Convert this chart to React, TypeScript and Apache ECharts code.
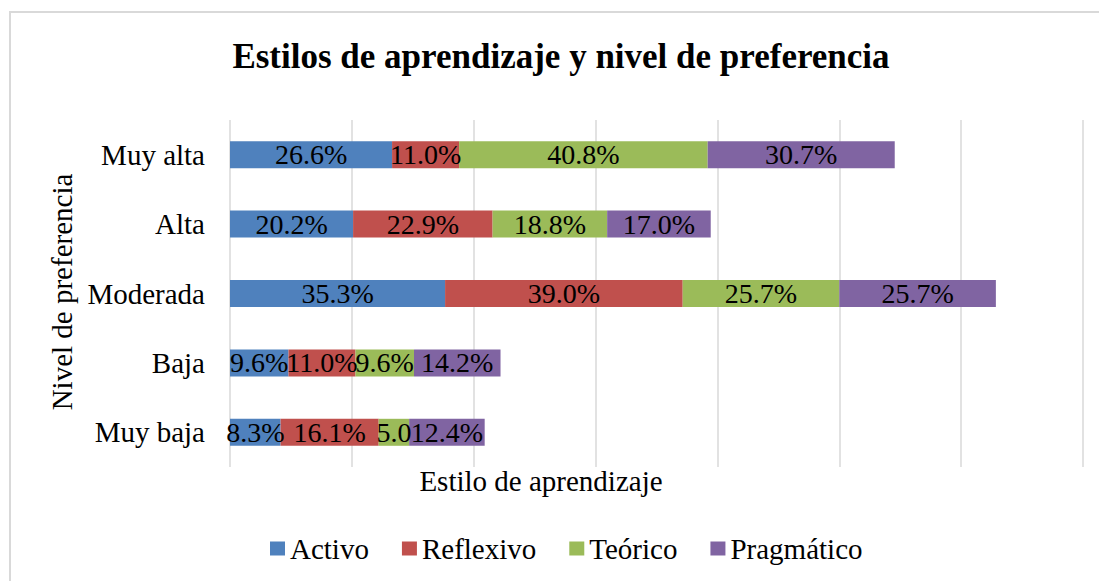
import React, { useEffect, useRef } from "react";
import * as echarts from "echarts";

const categories = ["Muy alta", "Alta", "Moderada", "Baja", "Muy baja"];
const seriesNames = ["Activo", "Reflexivo", "Teórico", "Pragmático"];
const activo = [26.6, 20.2, 35.3, 9.6, 8.3];
const reflexivo = [11.0, 22.9, 39.0, 11.0, 16.1];
const teorico = [40.8, 18.8, 25.7, 9.6, 5.0];
const pragmatico = [30.7, 17.0, 25.7, 14.2, 12.4];
const seriesValues = [activo, reflexivo, teorico, pragmatico];
const colors = ["#4F81BD", "#C0504D", "#9BBB59", "#8064A2"];

const FONT = "'Liberation Serif', 'Times New Roman', serif";

export default function App() {
  const ref = useRef<HTMLDivElement>(null);

  useEffect(() => {
    document.body.style.margin = "0";
    if (!ref.current) return;
    const chart = echarts.init(ref.current, null, { renderer: "svg" });

    const series = seriesValues.map((vals, si) => ({
      name: seriesNames[si],
      type: "bar",
      stack: "total",
      barWidth: 27,
      itemStyle: { color: colors[si] },
      label: {
        show: true,
        position: "inside",
        color: "#000",
        fontFamily: FONT,
        fontSize: 28,
        formatter: (p: any) => p.value.toFixed(1) + "%",
      },
      data: vals.map((v) =>
        v < 6
          ? { value: v, label: { width: 47, overflow: "truncate", ellipsis: "" } }
          : { value: v }
      ),
    }));

    chart.setOption({
      animation: false,
      textStyle: { fontFamily: FONT },
      grid: { left: 230, right: 16, top: 120, bottom: 114, containLabel: false },
      xAxis: {
        type: "value",
        min: 0,
        max: 140,
        interval: 20,
        axisLabel: { show: false },
        axisLine: { show: false },
        axisTick: { show: false },
        splitLine: { show: true, lineStyle: { color: "#D9D9D9", width: 1.5 } },
      },
      yAxis: {
        type: "category",
        inverse: true,
        data: categories,
        axisLine: { show: false },
        axisTick: { show: false },
        axisLabel: {
          color: "#000",
          fontFamily: FONT,
          fontSize: 29,
          margin: 25,
        },
      },
      legend: {
        data: seriesNames,
        left: 270,
        top: 534,
        padding: 0,
        itemGap: 33,
        itemWidth: 15,
        itemHeight: 14,
        icon: "rect",
        textStyle: { color: "#000", fontFamily: FONT, fontSize: 29 },
      },
      graphic: [
        {
          type: "rect",
          z: -10,
          shape: { x: 10, y: 12, width: 1100, height: 600 },
          style: { fill: "none", stroke: "#D9D9D9", lineWidth: 2 },
        },
        {
          type: "text",
          x: 561,
          y: 56,
          style: {
            text: "Estilos de aprendizaje y nivel de preferencia",
            fontFamily: FONT,
            fontSize: 35,
            fontWeight: "bold",
            fill: "#000",
            align: "center",
            verticalAlign: "middle",
          },
        },
        {
          type: "text",
          x: 541,
          y: 481,
          style: {
            text: "Estilo de aprendizaje",
            fontFamily: FONT,
            fontSize: 29,
            fill: "#000",
            align: "center",
            verticalAlign: "middle",
          },
        },
        {
          type: "text",
          x: 62,
          y: 292,
          rotation: Math.PI / 2,
          style: {
            text: "Nivel de preferencia",
            fontFamily: FONT,
            fontSize: 29,
            fill: "#000",
            align: "center",
            verticalAlign: "middle",
          },
        },
      ],
      series,
    });

    return () => chart.dispose();
  }, []);

  return <div ref={ref} style={{ width: 1099, height: 581 }} />;
}
